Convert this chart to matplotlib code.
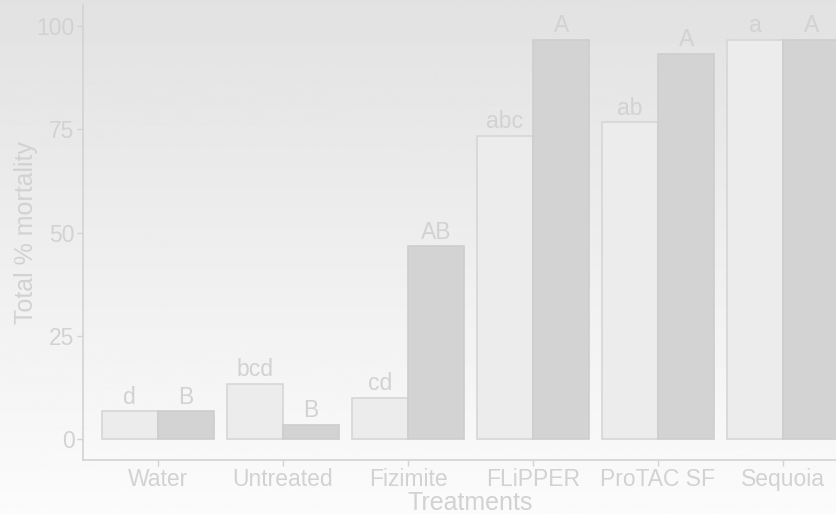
import numpy as np
import matplotlib
matplotlib.use('Agg')
import matplotlib.pyplot as plt

plt.rcParams['font.family'] = ['Liberation Sans', 'DejaVu Sans']

# Dados
treatments = ['Water', 'Untreated', 'Fizimite', 'FLiPPER', 'ProTAC SF', 'Sequoia']
light_vals = [6.67, 13.33, 10.0, 73.33, 76.67, 96.67]
dark_vals = [6.67, 3.33, 46.67, 96.67, 93.33, 96.67]
light_labels = ['d', 'bcd', 'cd', 'abc', 'ab', 'a']
dark_labels = ['B', 'B', 'AB', 'A', 'A', 'A']
y_ticks = [0, 25, 50, 75, 100]

TXT = '#d2d2d2'
LINE = '#d3d3d3'

fig = plt.figure(figsize=(8.37, 5.14), dpi=100)

# Fundo em degradê (cinza em cima, branco embaixo)
bg = fig.add_axes([0, 0, 1, 1], zorder=-10)
grad = np.linspace(0.886, 0.985, 256).reshape(-1, 1)
bg.imshow(grad, aspect='auto', cmap='gray', vmin=0, vmax=1,
          extent=[0, 1, 0, 1], origin='upper')
bg.axis('off')

W, H = 837, 514
left, right, bottom, top = 83, 858, 460, 5
ax = fig.add_axes([left / W, (H - bottom) / H, (right - left) / W, (bottom - top) / H])
ax.set_facecolor('none')

x = np.arange(1, len(treatments) + 1)
bw = 0.45
ax.bar(x - bw / 2, light_vals, width=bw, color='#ececec', edgecolor='#d6d6d6', linewidth=1.2)
ax.bar(x + bw / 2, dark_vals, width=bw, color='#d3d3d3', edgecolor='#cdcdcd', linewidth=1.2)

for xi, v, lab in zip(x - bw / 2, light_vals, light_labels):
    ax.annotate(lab, (xi, v), xytext=(0, 2), textcoords='offset points',
                ha='center', va='bottom', fontsize=16.5, color=TXT)
for xi, v, lab in zip(x + bw / 2, dark_vals, dark_labels):
    ax.annotate(lab, (xi, v), xytext=(0, 2), textcoords='offset points',
                ha='center', va='bottom', fontsize=16.5, color=TXT)

ax.set_xlim(0.4, 6.6)
ax.set_ylim(-5.08, 105.1)
ax.set_xticks(x)
ax.set_xticklabels(treatments)
ax.set_yticks(y_ticks)
ax.tick_params(colors=LINE, labelcolor=TXT, labelsize=16.5, length=4, width=1)
ax.tick_params(axis='y', pad=2)
ax.tick_params(axis='x', pad=2)

for s in ['top', 'right']:
    ax.spines[s].set_visible(False)
for s in ['left', 'bottom']:
    ax.spines[s].set_color(LINE)
    ax.spines[s].set_linewidth(1.2)

ax.set_xlabel('Treatments', fontsize=18, color=TXT, labelpad=0)
ax.set_ylabel('Total % mortality', fontsize=18, color=TXT, labelpad=-1)

fig.savefig('out.png', dpi=100)
